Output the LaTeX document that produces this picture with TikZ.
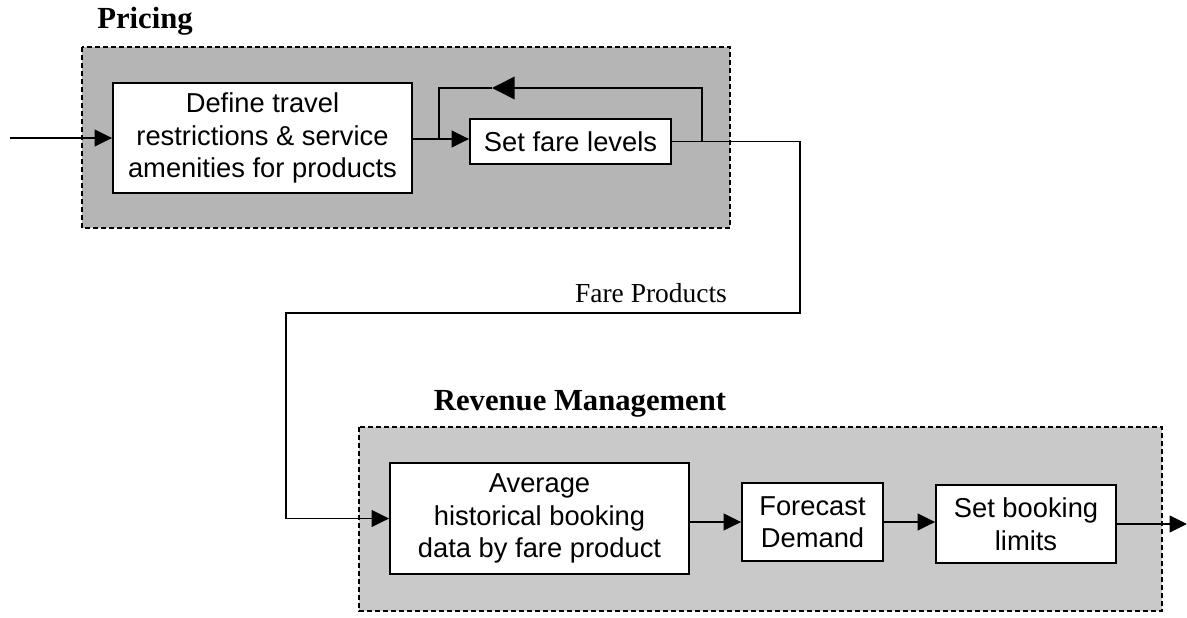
\documentclass[tikz,border=0pt]{standalone}
\usepackage{fontspec}
\setmainfont{Liberation Serif}
\setsansfont{Liberation Sans}
\usetikzlibrary{arrows.meta}

\tikzset{every picture/.style={line width=0.75pt}}
\tikzset{
  groupbox/.style={draw, fill=gray!58, line width=1.3pt, dash pattern=on 3.6pt off 2.4pt},
  rmgroupbox/.style={groupbox, fill=gray!42},
  procbox/.style={draw, fill=white, line width=1.4pt, align=center, inner sep=0pt,
    font=\sffamily\fontsize{20.5}{24.4}\selectfont},
  grouptitle/.style={anchor=base, font=\bfseries\fontsize{23}{27}\selectfont},
  flow/.style={line width=1.2pt, -{Triangle[length=13pt,width=12.5pt]}},
  bigflow/.style={line width=1.2pt, -{Triangle[length=17pt,width=17pt]}},
  plain/.style={line width=1.2pt},
}

\begin{document}
\begin{tikzpicture}[x=0.75pt,y=0.75pt,yscale=-1,xscale=1]
\path[use as bounding box] (0,0) rectangle (1187,617);

% Groups
\draw[groupbox] (82,47) rectangle (730,228);
\draw[rmgroupbox] (359,427) rectangle (1162,611);

% Text Node
\node[grouptitle] (pricingTitle) at (145,29) {Pricing};
% Text Node
\node[grouptitle] (rmTitle) at (580,410) {Revenue Management};
% Text Node
\node[anchor=base, font=\fontsize{20.6}{24}\selectfont] (fareLabel) at (651,302) {Fare Products};

% Process boxes
\node[procbox, minimum width=224.25pt, minimum height=82.5pt] (defineBox) at (262.5,138)
  {Define travel\\restrictions \& service\\amenities for products};
\node[procbox, minimum width=150.75pt, minimum height=33.75pt] (fareBox) at (570.5,141.5)
  {Set fare levels};
\node[procbox, minimum width=224.25pt, minimum height=83.25pt] (avgBox) at (539.5,518.5)
  {Average\\historical booking\\data by fare product};
\node[procbox, minimum width=105.75pt, minimum height=58.5pt] (forecastBox) at (812.5,522)
  {Forecast\\Demand};
\node[procbox, minimum width=135pt, minimum height=58.5pt] (limitBox) at (1026,524)
  {Set booking\\limits};

% Free ends and bends
\coordinate (inStart) at (10,138);
\coordinate (outEnd) at (1187,524);
\coordinate (fbRight) at (702,88);
\coordinate (fbTip) at (492,88);
\coordinate (fbLeft) at (439,88);
\coordinate (fareRight) at (800,313);
\coordinate (fareLeft) at (286,313);

%Straight Lines
\draw[flow] (inStart) -- (defineBox.west);
\draw[flow] (defineBox.east |- 0,139) -- (fareBox.west |- 0,139);
%Feedback loop
\draw[bigflow] (fareBox.east -| fbRight) -- (fbRight) -- (fbTip);
\draw[plain] (fbTip) -- (fbLeft) -- (fbLeft |- 0,139);
%Fare products link
\draw[flow] (fareBox.east) -| (fareRight) -- (fareLeft) |- (avgBox.west);
%Straight Lines
\draw[flow] (avgBox.east |- forecastBox.west) -- (forecastBox.west);
\draw[flow] (forecastBox.east) -- (forecastBox.east -| limitBox.west);
\draw[flow] (limitBox.east) -- (outEnd);

\end{tikzpicture}
\end{document}
